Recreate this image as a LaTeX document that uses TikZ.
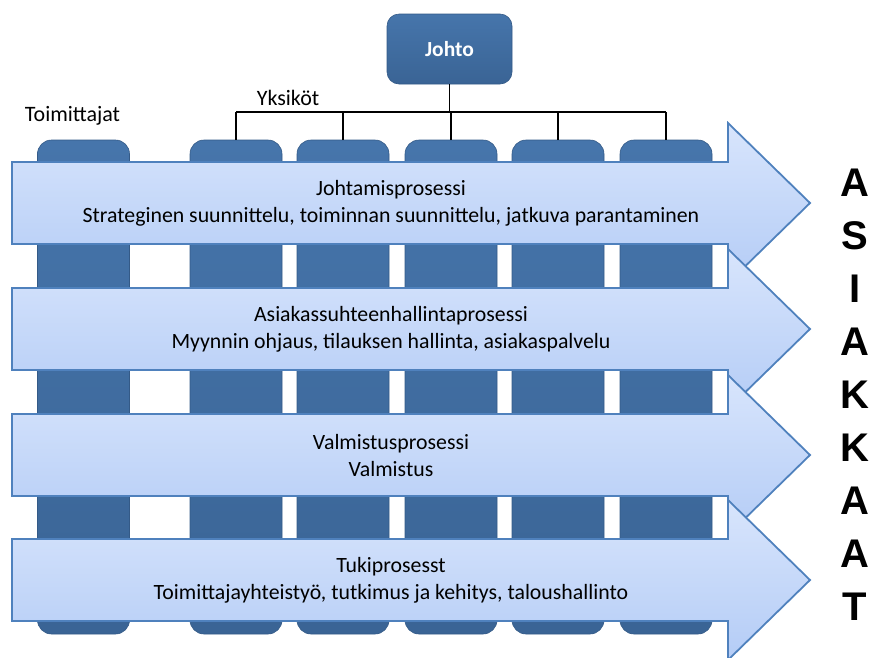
\documentclass[tikz,border=0pt]{standalone}
\usepackage{fontspec}
\setmainfont{Carlito}
\newfontfamily\lettersfont{Liberation Sans}
\definecolor{colTop}{HTML}{4675AB}
\definecolor{colBot}{HTML}{3A6495}
\definecolor{colEdge}{HTML}{345A87}
\definecolor{arrTop}{HTML}{D8E5FC}
\definecolor{arrBot}{HTML}{B4CCF6}
\definecolor{arrEdge}{HTML}{4F81BD}
\begin{document}
\begin{tikzpicture}[x=1pt,y=-1pt,
  column/.style={rounded corners=14pt, draw=colEdge, line width=0.6pt,
    top color=colTop, bottom color=colBot, minimum width=92pt,
    minimum height=494pt, inner sep=0pt},
  headbox/.style={rounded corners=12pt, draw=colEdge, line width=0.6pt,
    top color=colTop, bottom color=colBot, minimum width=125pt,
    minimum height=70pt, text=white, font=\fontsize{21.5}{24}\selectfont\bfseries},
  link/.style={black, line width=1.8pt},
  procarrow/.style={draw=arrEdge, line width=1.8pt, line join=miter,
    top color=arrTop, bottom color=arrBot},
  proctext/.style={align=center, inner sep=0pt,
    font=\fontsize{21.8}{27}\selectfont},
  caption/.style={inner sep=0pt, font=\fontsize{22}{24}\selectfont},
  letter/.style={inner sep=0pt, font=\lettersfont\fontsize{40}{40}\selectfont\bfseries}
]
\useasboundingbox (0,0) rectangle (869,657);

% management box
\node[headbox] (johto) at (449.5,49) {Johto};

% supplier column and unit columns
\node[column] (c0) at (83.5,387) {};
\foreach \x [count=\i] in {236,343,451,558,666}
  \node[column] (c\i) at (\x,387) {};

% organisation lines from management to the units
\coordinate (bus) at (452,112);
\draw[link] (johto.south) -- (johto.south |- bus);
\draw[link] (c1.north |- bus) -- (c5.north |- bus);
\foreach \i in {1,...,5}
  \draw[link] (c\i.north |- bus) -- (c\i.north);

\node[caption] (yks) at (288,98) {Yksiköt};
\node[caption] (toim) at (72.5,116) {Toimittajat};

% process arrows
\foreach \y in {203,329,455,580}
  \draw[procarrow] (12,\y-41) -- (728,\y-41) -- (728,\y-80) -- (810,\y)
    -- (728,\y+80) -- (728,\y+41) -- (12,\y+41) -- cycle;

\node[proctext] (p1) at (391,203)
  {Johtamisprosessi\\Strateginen suunnittelu, toiminnan suunnittelu, jatkuva parantaminen};
\node[proctext] (p2) at (391,329)
  {Asiakassuhteenhallintaprosessi\\Myynnin ohjaus, tilauksen hallinta, asiakaspalvelu};
\node[proctext] (p3) at (391,455)
  {Valmistusprosessi\\Valmistus};
\node[proctext] (p4) at (391,580)
  {Tukiprosesst\\Toimittajayhteistyö, tutkimus ja kehitys, taloushallinto};

% customers, written vertically
\foreach \l [count=\i from 0] in {A,S,I,A,K,K,A,A,T}
  \node[letter] (l\i) at (855,183+53*\i) {\l};
\end{tikzpicture}
\end{document}
